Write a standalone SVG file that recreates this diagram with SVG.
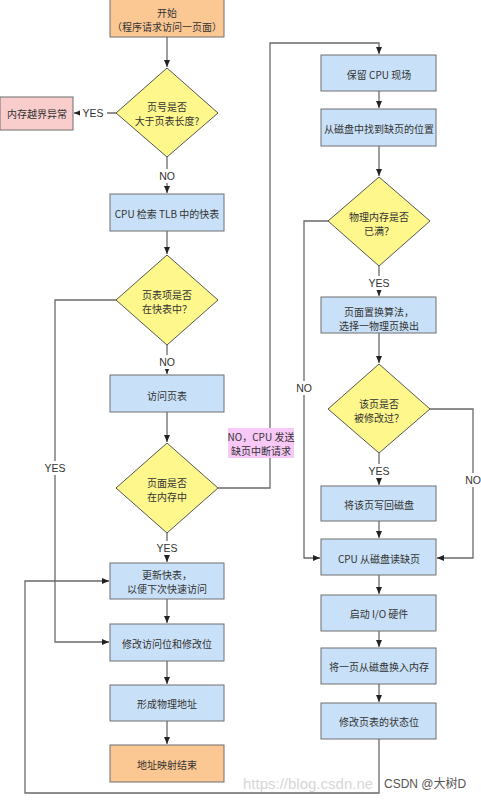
<svg xmlns="http://www.w3.org/2000/svg" width="481" height="800" viewBox="0 0 481 800">
<style>
.box{fill:#c9e1f8;stroke:#6f6f6f;stroke-width:1}
.org{fill:#fbc793;stroke:#6f6f6f;stroke-width:1}
.pink{fill:#f8cdcc;stroke:#6f6f6f;stroke-width:1}
.dia{fill:#fdf78c;stroke:#555;stroke-width:1}
.t{font-family:"Noto Sans CJK SC","Noto Sans",sans-serif;font-size:10px;fill:#333;text-anchor:middle;dominant-baseline:central}
.lbl{font-family:"Liberation Sans","Noto Sans CJK SC",sans-serif;font-size:10.5px;fill:#333;text-anchor:middle;dominant-baseline:central}
.c{fill:none;stroke:#6a6a6a;stroke-width:1.3}
</style>
<defs>
<marker id="a" markerWidth="8" markerHeight="8" refX="7" refY="4" orient="auto" markerUnits="userSpaceOnUse">
<path d="M0,1 L7,4 L0,7 Z" fill="#222"/>
</marker>
</defs>
<rect width="481" height="800" fill="#ffffff"/>

<g id="connectors">
<path class="c" d="M167,37 V67" marker-end="url(#a)"/>
<path class="c" d="M116,113 H74" marker-end="url(#a)"/>
<path class="c" d="M167,157 V193" marker-end="url(#a)"/>
<path class="c" d="M167,231 V254" marker-end="url(#a)"/>
<path class="c" d="M116,300 H55 V642 H109" marker-end="url(#a)"/>
<path class="c" d="M167,345 V374" marker-end="url(#a)"/>
<path class="c" d="M167,412 V442" marker-end="url(#a)"/>
<path class="c" d="M218,488 H270 V43 H379 V54" marker-end="url(#a)"/>
<path class="c" d="M167,533 V562" marker-end="url(#a)"/>
<path class="c" d="M167,599 V623" marker-end="url(#a)"/>
<path class="c" d="M167,661 V684" marker-end="url(#a)"/>
<path class="c" d="M167,721 V744" marker-end="url(#a)"/>
<path class="c" d="M379,91 V108" marker-end="url(#a)"/>
<path class="c" d="M379,146 V176" marker-end="url(#a)"/>
<path class="c" d="M328,221 H304 V558 H320" marker-end="url(#a)"/>
<path class="c" d="M379,266 V296" marker-end="url(#a)"/>
<path class="c" d="M379,333 V363" marker-end="url(#a)"/>
<path class="c" d="M430,409 H473 V558 H437" marker-end="url(#a)"/>
<path class="c" d="M379,453 V485" marker-end="url(#a)"/>
<path class="c" d="M379,521 V538" marker-end="url(#a)"/>
<path class="c" d="M379,575 V594" marker-end="url(#a)"/>
<path class="c" d="M379,631 V647" marker-end="url(#a)"/>
<path class="c" d="M379,684 V702" marker-end="url(#a)"/>
<path class="c" d="M379,739 V793 H25 V581 H109" marker-end="url(#a)"/>
<g id="labels">
<rect x="80" y="106" width="27" height="14" fill="#fff"/>
<text class="lbl" x="93" y="113">YES</text>
<rect x="155" y="169" width="24" height="14" fill="#fff"/>
<text class="lbl" x="167" y="176">NO</text>
<rect x="155" y="355" width="24" height="14" fill="#fff"/>
<text class="lbl" x="167" y="362">NO</text>
<rect x="41" y="461" width="28" height="14" fill="#fff"/>
<text class="lbl" x="55" y="468">YES</text>
<rect x="153" y="541" width="28" height="14" fill="#fff"/>
<text class="lbl" x="167" y="548">YES</text>
<rect x="228" y="428" width="66" height="30" fill="#f8c8f6"/>
<text class="t" x="261" y="436">NO，CPU 发送</text>
<text class="t" x="261" y="450">缺页中断请求</text>
<rect x="365" y="276" width="28" height="14" fill="#fff"/>
<text class="lbl" x="379" y="283">YES</text>
<rect x="292" y="381" width="24" height="14" fill="#fff"/>
<text class="lbl" x="304" y="388">NO</text>
<rect x="365" y="464" width="28" height="14" fill="#fff"/>
<text class="lbl" x="379" y="471">YES</text>
<rect x="461" y="473" width="24" height="14" fill="#fff"/>
<text class="lbl" x="473" y="480">NO</text>
</g>
</g>

<g id="start">
<rect class="org" x="110" y="-1" width="114" height="38"/>
<text class="t" x="167" y="12">开始</text>
<text class="t" x="167" y="26">（程序请求访问一页面）</text>
</g>
<g id="d1">
<polygon class="dia" points="167,68 218,113 167,157 116,113"/>
<text class="t" x="167" y="106">页号是否</text>
<text class="t" x="167" y="120">大于页表长度?</text>
</g>
<g id="err">
<rect class="pink" x="0" y="97" width="73" height="33"/>
<text class="t" x="37" y="113">内存越界异常</text>
</g>
<g id="tlb">
<rect class="box" x="110" y="194" width="114" height="37"/>
<text class="t" x="167" y="213">CPU 检索 TLB 中的快表</text>
</g>
<g id="d2">
<polygon class="dia" points="167,255 218,300 167,345 116,300"/>
<text class="t" x="167" y="294">页表项是否</text>
<text class="t" x="167" y="308">在快表中？</text>
</g>
<g id="visit">
<rect class="box" x="110" y="375" width="114" height="37"/>
<text class="t" x="167" y="395">访问页表</text>
</g>
<g id="d3">
<polygon class="dia" points="167,443 218,488 167,533 116,488"/>
<text class="t" x="167" y="482">页面是否</text>
<text class="t" x="167" y="496">在内存中</text>
</g>
<g id="update">
<rect class="box" x="110" y="563" width="114" height="36"/>
<text class="t" x="167" y="574">更新快表，</text>
<text class="t" x="167" y="588">以便下次快速访问</text>
</g>
<g id="modify">
<rect class="box" x="110" y="624" width="114" height="37"/>
<text class="t" x="167" y="643">修改访问位和修改位</text>
</g>
<g id="phys">
<rect class="box" x="110" y="685" width="114" height="36"/>
<text class="t" x="167" y="703">形成物理地址</text>
</g>
<g id="end">
<rect class="org" x="110" y="745" width="114" height="37"/>
<text class="t" x="167" y="764">地址映射结束</text>
</g>

<g id="save">
<rect class="box" x="321" y="55" width="115" height="36"/>
<text class="t" x="379" y="74">保留 CPU 现场</text>
</g>
<g id="find">
<rect class="box" x="321" y="109" width="115" height="37"/>
<text class="t" x="379" y="128">从磁盘中找到缺页的位置</text>
</g>
<g id="d4">
<polygon class="dia" points="379,177 430,221 379,266 328,221"/>
<text class="t" x="379" y="216">物理内存是否</text>
<text class="t" x="379" y="230">已满？</text>
</g>
<g id="replace">
<rect class="box" x="321" y="297" width="115" height="36"/>
<text class="t" x="379" y="311">页面置换算法，</text>
<text class="t" x="379" y="325">选择一物理页换出</text>
</g>
<g id="d5">
<polygon class="dia" points="379,364 430,409 379,453 328,409"/>
<text class="t" x="379" y="403">该页是否</text>
<text class="t" x="379" y="417">被修改过？</text>
</g>
<g id="writeback">
<rect class="box" x="321" y="486" width="115" height="35"/>
<text class="t" x="379" y="504">将该页写回磁盘</text>
</g>
<g id="read">
<rect class="box" x="321" y="539" width="115" height="36"/>
<text class="t" x="379" y="558">CPU 从磁盘读缺页</text>
</g>
<g id="io">
<rect class="box" x="321" y="595" width="115" height="36"/>
<text class="t" x="379" y="613">启动 I/O 硬件</text>
</g>
<g id="swapin">
<rect class="box" x="321" y="648" width="115" height="36"/>
<text class="t" x="379" y="666">将一页从磁盘换入内存</text>
</g>
<g id="status">
<rect class="box" x="321" y="703" width="115" height="36"/>
<text class="t" x="379" y="721">修改页表的状态位</text>
</g>

<g id="watermark">
<text x="243" y="789" font-family="'Liberation Sans',sans-serif" font-size="15" fill="#d6d6d6">https://blog.csdn.ne</text>
<text x="384" y="788" font-family="'Liberation Sans','Noto Sans CJK SC',sans-serif" font-size="12" fill="#555">CSDN @大树D</text>
</g>
</svg>
